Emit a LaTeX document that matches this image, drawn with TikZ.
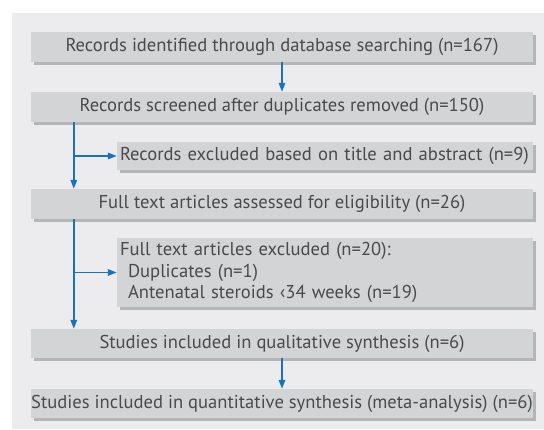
\documentclass[tikz,border=0pt]{standalone}
\usepackage{fontspec}
\setmainfont{PT Sans}
\usetikzlibrary{arrows.meta,shadows}

\definecolor{panelgray}{HTML}{ECECEE}
\definecolor{boxgray}{HTML}{D3D4D6}
\definecolor{shadowgray}{HTML}{B4B5B7}
\definecolor{flowblue}{HTML}{1A72BB}
\definecolor{textgray}{HTML}{4A4A4C}

\tikzset{
  stage/.style={fill=boxgray, text=textgray, minimum width=502pt, minimum height=30pt,
    inner sep=0pt, font=\fontsize{18.6}{21.5}\selectfont,
    drop shadow={shadow xshift=3pt, shadow yshift=-3pt, fill=shadowgray, opacity=1}},
  excluded/.style={stage, minimum width=416pt, text width=410pt, align=left},
  flow/.style={draw=flowblue, line width=1.6pt, -{Triangle[length=9pt,width=6.5pt]}}
}

\begin{document}
\begin{tikzpicture}[x=1pt, y=-1pt]
            %\draw[lightgray] (0, 0) grid (544, 429);
            \fill[panelgray] (12, 13) rectangle (544, 429);
            \useasboundingbox (0, 0) rectangle (544, 429);
            \node[stage] (identified) at (282, 47) {Records identified through database searching (n=167)};
            \node[stage] (screened) at (282, 107) {Records screened after duplicates removed (n=150)};
            \node[excluded, minimum height=28pt] (excl1) at (325, 156) {Records excluded based on title and abstract (n=9)};
            \node[stage] (assessed) at (282, 204) {Full text articles assessed for eligibility (n=26)};
            \node[excluded, minimum height=69pt] (excl2) at (325, 272.5) {Full text articles excluded (n=20):\\
              \hspace*{8pt}Duplicates (n=1)\\
              \hspace*{8pt}Antenatal steroids ‹34 weeks (n=19)};
            \node[stage, minimum height=29pt] (qualitative) at (282, 343.5) {Studies included in qualitative synthesis (n=6)};
            \node[stage, minimum height=29pt] (quantitative) at (282, 403.5) {Studies included in quantitative synthesis (meta-analysis) (n=6)};
            \coordinate (spineA) at ([xshift=43pt]screened.south west);
            \coordinate (spineB) at ([xshift=43pt]assessed.south west);
            \draw[flow] (identified) -- (screened);
            \draw[flow] (spineA) -- (spineA |- assessed.north);
            \draw[flow] (spineA |- excl1.west) -- (excl1.west);
            \draw[flow] (spineB) -- (spineB |- qualitative.north);
            \draw[flow] (spineB |- excl2.west) -- (excl2.west);
            \draw[flow] (qualitative) -- (quantitative);
        \end{tikzpicture}
\end{document}
